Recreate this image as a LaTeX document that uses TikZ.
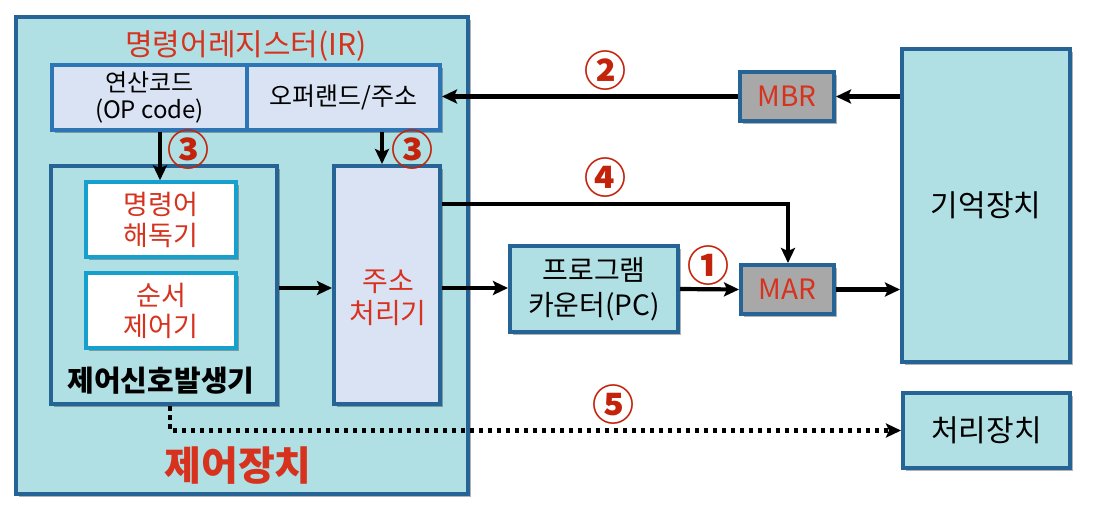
\documentclass[tikz,border=0pt]{standalone}
\usepackage{fontspec}
\setmainfont{Noto Sans CJK KR}
\definecolor{unitcyan}{RGB}{176, 224, 228}
\definecolor{edgeblue}{RGB}{38, 100, 150}
\definecolor{irfill}{RGB}{218, 227, 243}
\definecolor{iredge}{RGB}{46, 117, 182}
\definecolor{decedge}{RGB}{22, 160, 205}
\definecolor{reggray}{RGB}{168, 168, 168}
\definecolor{txtred}{RGB}{214, 50, 30}
\definecolor{numred}{RGB}{195, 35, 10}
\usetikzlibrary{arrows.meta, shadows}
\tikzset{
  boxshadow/.style={drop shadow={shadow xshift=3pt, shadow yshift=-3pt, opacity=0.3, fill=black}},
  unitbox/.style={draw=edgeblue, fill=unitcyan, line width=4pt, inner sep=0pt, align=center, boxshadow},
  irbox/.style={draw=iredge, fill=irfill, line width=4pt, inner sep=0pt, align=center, minimum height=65pt, font=\fontsize{24}{27}\selectfont, boxshadow},
  subbox/.style={draw=decedge, fill=white, line width=3.5pt, minimum width=150pt, minimum height=75pt, inner sep=0pt, align=center, text=txtred, font=\fontsize{27}{31}\selectfont, boxshadow},
  regbox/.style={draw=edgeblue, fill=reggray, line width=4pt, minimum width=93pt, minimum height=49pt, inner sep=0pt, text=txtred, font=\fontsize{28}{30}\selectfont, boxshadow},
  stepnum/.style={text=numred, font=\fontsize{42}{42}\selectfont\bfseries},
  arr/.style={-{Stealth[length=15pt, width=14pt, inset=3pt]}, line width=4.2pt},
  dotarr/.style={arr, dash pattern=on 4.5pt off 4.5pt, line width=4.5pt}
}

\begin{document}
\begin{tikzpicture}[x=1pt, y=-1pt]
  \useasboundingbox (0,0) rectangle (1093,512);

  % Control unit
  \node[unitbox, minimum width=452pt, minimum height=477pt] (ctrl) at (242, 255.5) {};
  \node[text=txtred, font=\fontsize{30}{34}\selectfont] (irtitle) at (246, 46) {명령어레지스터(IR)};
  \node[text=txtred, font=\fontsize{40}{44}\selectfont\bfseries] (ctrltitle) at (238, 466) {제어장치};

  % Instruction register
  \node[irbox, minimum width=195pt] (opcode) at (149.5, 97.5) {연산코드\\(OP code)};
  \node[irbox, minimum width=193pt, font=\fontsize{25}{27}\selectfont] (operand) at (343.5, 97.5) {오퍼랜드/주소};

  % Control signal generator
  \node[unitbox, minimum width=226pt, minimum height=238pt] (siggen) at (164, 285) {};
  \node[subbox] (decoder) at (161, 219.5) {명령어\\해독기};
  \node[subbox] (sequencer) at (161, 310.5) {순서\\제어기};
  \node[font=\fontsize{29}{32}\selectfont\bfseries] (siglabel) at (161, 381) {제어신호발생기};

  % Address processor
  \node[unitbox, fill=irfill, minimum width=106pt, minimum height=238pt] (addr) at (387, 285) {};
  \node[text=txtred, align=center, font=\fontsize{28}{32}\selectfont] (addrlabel) at (388, 298) {주소\\처리기};

  % Right side
  \node[unitbox, minimum width=168pt, minimum height=86pt, font=\fontsize{28}{35}\selectfont] (pc) at (594, 289) {프로그램\\카운터(PC)};
  \node[regbox] (mar) at (787.5, 289.5) {MAR};
  \node[regbox, minimum width=94pt] (mbr) at (787, 96.5) {MBR};
  \node[unitbox, minimum width=168pt, minimum height=313pt, font=\fontsize{30}{34}\selectfont] (mem) at (986, 205.5) {기억장치};
  \node[unitbox, minimum width=167pt, minimum height=75pt, font=\fontsize{30}{34}\selectfont] (cpu) at (986.5, 430.5) {처리장치};

  % Connectors
  \draw[arr] (mem.west |- mbr.east) -- (mbr.east);
  \draw[arr] (mbr.west) -- (mbr.west -| operand.east);
  \draw[arr] (opcode.south -| 160,0) -- (decoder.north -| 160,0);
  \draw[arr] (operand.south -| 382,0) -- (addr.north -| 382,0);
  \draw[arr] (siggen.east |- 0,288) -- (addr.west |- 0,288);
  \draw[arr] (addr.east |- 0,288) -- (pc.west |- 0,288);
  \draw[arr] (pc.east) -- (mar.west);
  \draw[arr] (mar.east) -- (mar.east -| mem.west);
  \draw[arr] (addr.east |- 0,204) -| (mar.north -| 788,0);
  \draw[dotarr] (siggen.south -| 170,0) |- (cpu.west);

  % Step numbers
  \node[stepnum] (s1) at (708, 266) {①};
  \node[stepnum] (s2) at (605, 71) {②};
  \node[stepnum] (s3a) at (188, 150) {③};
  \node[stepnum] (s3b) at (412, 150) {③};
  \node[stepnum] (s4) at (605, 178) {④};
  \node[stepnum] (s5) at (613, 405) {⑤};
\end{tikzpicture}
\end{document}
